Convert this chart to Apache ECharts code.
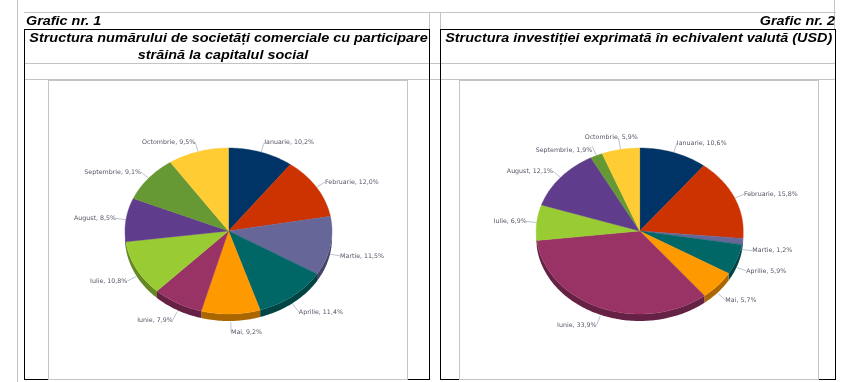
<!DOCTYPE html>
<html lang="ro">

<head>
  <meta charset="utf-8">
  <script src="https://cdn.jsdelivr.net/npm/echarts@6/dist/echarts.min.js"></script>
  <style>
    html, body { margin: 0; padding: 0; background: #fff; }
    #table, #pies { position: absolute; left: 0; top: 0; width: 849px; height: 382px; }
    #pies { filter: blur(0.5px); }
  </style>
</head>

<body>
  <div id="table"></div>
  <div id="pies"></div>

  <script type="text/javascript">

    var months = ['Ianuarie', 'Februarie', 'Martie', 'Aprilie', 'Mai', 'Iunie', 'Iulie', 'August', 'Septembrie', 'Octombrie'];
    var societati = [10.2, 12.0, 11.5, 11.4, 9.2, 7.9, 10.8, 8.5, 9.1, 9.5];
    var investitii = [10.6, 15.8, 1.2, 5.9, 5.7, 33.9, 6.9, 12.1, 1.9, 5.9];
    var colors = ['#003366', '#cc3300', '#666699', '#006666', '#ff9900', '#993366', '#99cc33', '#603c8c', '#669933', '#ffcc33'];
    var sideColors = ['#002244', '#882200', '#444466', '#004444', '#aa6600', '#662244', '#668822', '#442266', '#446622', '#aa8822'];

    var RX = 103.5, RY = 83, DEPTH = 7, LABEL_GAP = 10, LABEL_DROP = 8;
    var GRAY = '#c4c4c4', BLACK = '#000';
    var TITLE_FONT = 'italic bold 13px "Liberation Sans", Arial, sans-serif';
    var TITLE_STRETCH = 1.107;
    // the two small slices of the second pie push their labels apart
    var shiftsInvestitii = { 8: [0, 4], 9: [19, -2] };

    function pointAt(cx, cy, rx, ry, angle) {
        return [cx + rx * Math.sin(angle), cy - ry * Math.cos(angle)];
    }

    function arcPoints(cx, cy, start, end) {
        var pts = [];
        var steps = Math.max(2, Math.ceil((end - start) / 0.02));
        for (var i = 0; i <= steps; i++) {
            pts.push(pointAt(cx, cy, RX, RY, start + (end - start) * i / steps));
        }
        return pts;
    }

    // elliptical pie, the library pie can only be round
    function pieRenderer(values, cx, cy, shifts) {
        var total = values.reduce(function (a, b) { return a + b; }, 0);
        return function (params, api) {
            var before = 0;
            for (var i = 0; i < params.dataIndex; i++) {
                before += values[i];
            }
            var value = api.value(1);
            var start = before / total * Math.PI * 2;
            var end = (before + value) / total * Math.PI * 2;
            var mid = (start + end) / 2;
            var children = [];

            children.push({
                type: 'polygon',
                z2: 2,
                shape: { points: [[cx, cy]].concat(arcPoints(cx, cy, start, end)) },
                style: { fill: colors[params.dataIndex], stroke: colors[params.dataIndex], lineWidth: 0.4 }
            });

            // rim of the disc, only on the front half
            var s = Math.max(start, Math.PI / 2), e = Math.min(end, Math.PI * 1.5);
            if (e > s) {
                var rim = arcPoints(cx, cy, s, e);
                var lower = rim.map(function (p) { return [p[0], p[1] + DEPTH]; }).reverse();
                children.push({
                    type: 'polygon',
                    z2: 1,
                    shape: { points: rim.concat(lower) },
                    style: { fill: sideColors[params.dataIndex] }
                });
            }

            var front = Math.cos(mid) < 0;
            var drop = front ? LABEL_DROP : 0;
            var edge = pointAt(cx, cy + drop, RX, RY, mid);
            var anchor = pointAt(cx, cy + drop, RX + LABEL_GAP, RY + LABEL_GAP, mid);
            var right = Math.sin(mid) >= 0;
            var shift = (shifts && shifts[params.dataIndex]) || [0, 0];
            children.push({
                type: 'polyline',
                z2: 0,
                shape: { points: [edge, anchor] },
                style: { fill: null, stroke: '#b8c4d0', lineWidth: 1 }
            });
            children.push({
                type: 'text',
                z2: 3,
                style: {
                    x: anchor[0] + shift[0],
                    y: anchor[1] + shift[1],
                    text: months[params.dataIndex] + ', ' + value.toFixed(1).replace('.', ',') + '%',
                    font: '6.3px "DejaVu Sans", sans-serif',
                    fill: '#555566',
                    align: right ? 'left' : 'right',
                    verticalAlign: 'middle'
                }
            });
            return { type: 'group', children: children };
        };
    }

    function pieSeries(values, cx, cy, shifts) {
        return {
            type: 'custom',
            coordinateSystem: 'none',
            renderItem: pieRenderer(values, cx, cy, shifts),
            data: values.map(function (v, i) { return [i, v]; }),
            animation: false,
            silent: true
        };
    }

    function line(x1, y1, x2, y2, color) {
        return {
            type: 'line',
            z: color === BLACK ? 2 : 1,
            shape: { x1: x1, y1: y1, x2: x2, y2: y2 },
            style: { stroke: color, lineWidth: 1 }
        };
    }

    function label(text, x, y, align) {
        return {
            type: 'text',
            z: 3,
            x: x,
            y: y,
            scaleX: TITLE_STRETCH,
            style: { x: 0, y: 0, text: text, font: TITLE_FONT, fill: '#000', align: align, verticalAlign: 'middle' }
        };
    }

    var tableLines = [
        line(17.5, 0, 17.5, 382, GRAY),
        line(834.5, 0, 834.5, 30, GRAY),
        line(24, 12.5, 836, 12.5, GRAY),
        line(429.5, 12, 429.5, 29, GRAY),
        line(440.5, 12, 440.5, 29, GRAY),
        line(24, 63.5, 836, 63.5, GRAY),
        line(24, 79.5, 836, 79.5, GRAY),
        line(48, 80.5, 408, 80.5, GRAY),
        line(459, 80.5, 819, 80.5, GRAY),
        line(48.5, 80, 48.5, 379, GRAY),
        line(407.5, 80, 407.5, 379, GRAY),
        line(459.5, 80, 459.5, 379, GRAY),
        line(818.5, 80, 818.5, 379, GRAY),
        line(48, 379.5, 408, 379.5, GRAY),
        line(459, 379.5, 819, 379.5, GRAY),
        line(24, 29.5, 430, 29.5, BLACK),
        line(440, 29.5, 836, 29.5, BLACK),
        line(24.5, 29, 24.5, 380, BLACK),
        line(429.5, 29, 429.5, 380, BLACK),
        line(440.5, 29, 440.5, 380, BLACK),
        line(835.5, 29, 835.5, 380, BLACK),
        line(24, 379.5, 48, 379.5, BLACK),
        line(408, 379.5, 430, 379.5, BLACK),
        line(440, 379.5, 459, 379.5, BLACK),
        line(819, 379.5, 836, 379.5, BLACK)
    ];

    var tableTexts = [
        label('Grafic nr. 1', 26, 21.5, 'left'),
        label('Grafic nr. 2', 835, 21.5, 'right'),
        label('Structura numărului de societăți comerciale cu participare', 228.5, 38, 'center'),
        label('străină la capitalul social', 223, 55, 'center'),
        label('Structura investiției exprimată în echivalent valută (USD)', 638.7, 38, 'center')
    ];

    const table = echarts.init(document.getElementById('table'));
    table.setOption({
        animation: false,
        graphic: { elements: tableLines.concat(tableTexts) }
    });

    const pies = echarts.init(document.getElementById('pies'));
    pies.setOption({
        animation: false,
        series: [
            pieSeries(societati, 228.5, 231),
            pieSeries(investitii, 639.7, 231, shiftsInvestitii)
        ]
    });
  </script>
</body>

</html>
